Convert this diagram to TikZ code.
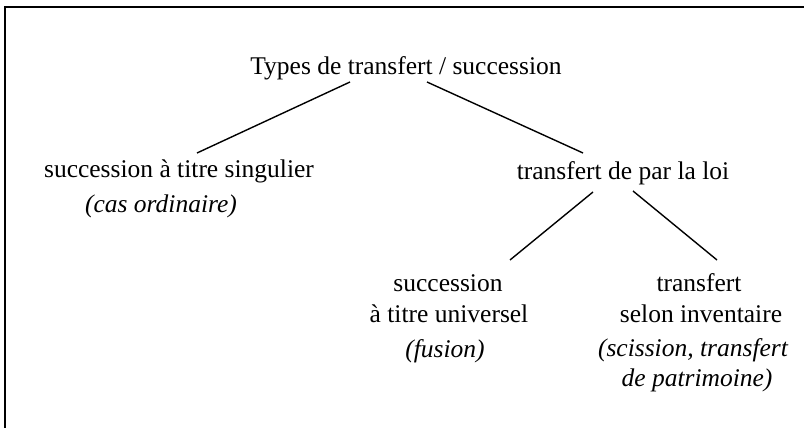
\documentclass[tikz,border=0pt]{standalone}
\usepackage{fontspec}
\setmainfont{Liberation Serif}
\usetikzlibrary{calc}
\begin{document}
\begin{tikzpicture}[x=1pt,y=-1pt,
  txt/.style={font=\fontsize{25.5}{30}\selectfont, inner sep=0pt, anchor=base},
  it/.style={txt, font=\fontsize{25.5}{30}\selectfont\itshape},
  link/.style={line width=1.4pt},
  frame/.style={line width=1.6pt}]
\useasboundingbox (0,0) rectangle (804,430);
\draw[frame] (5,428) -- (5,7) -- (804,7);
\node[txt] (root) at (406,75) {Types de transfert / succession};
\node[txt] (sing) at (179,178) {succession à titre singulier};
\node[it] (cas) at (161,213) {(cas ordinaire)};
\node[txt] (loi) at (623,180) {transfert de par la loi};
\node[txt] (univ1) at (448,292) {succession};
\node[txt] (univ2) at (449,323) {à titre universel};
\node[it] (fus) at (445,358) {(fusion)};
\node[txt] (inv1) at (699,292) {transfert};
\node[txt] (inv2) at (701,323) {selon inventaire};
\node[it] (sci1) at (693,357) {(scission, transfert};
\node[it] (sci2) at (697,387) {de patrimoine)};
\draw[link] ($(root.base)+(-56,7)$) -- ($(sing.base)+(18,-25)$);
\draw[link] ($(root.base)+(21,7)$) -- ($(loi.base)+(-40,-27)$);
\draw[link] ($(loi.base)+(-30,12)$) -- ($(univ1.base)+(62,-32)$);
\draw[link] ($(loi.base)+(10,11)$) -- ($(inv1.base)+(18,-32)$);
\end{tikzpicture}
\end{document}
